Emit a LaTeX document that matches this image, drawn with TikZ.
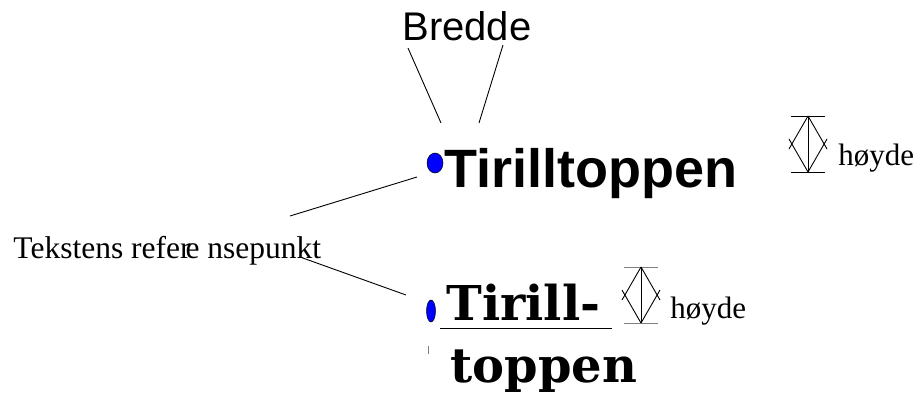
\documentclass[tikz,border=0pt]{standalone}
\usepackage{fontspec}
\setmainfont{Liberation Serif}
\newfontfamily\arialfont{Liberation Sans}
\newfontfamily\slabfont{DejaVu Serif}
\usetikzlibrary{positioning}
\usetikzlibrary{shapes.geometric}

\begin{document}
\begin{tikzpicture}[x=1pt,y=-1pt,line width=0.9pt,
    refdot/.style={draw, ellipse, fill=blue, inner sep=0pt, line width=0.5pt},
    txt/.style={anchor=base west, inner sep=0pt}]
    \useasboundingbox (0,0) rectangle (916,394);

            % Names
            \node [txt, font=\arialfont\fontsize{40}{42}\selectfont] (bredde) at (402,40) {Bredde};
            \node [txt, font=\arialfont\bfseries\fontsize{54}{58}\selectfont] (navn1) at (444,187) {Tirilltoppen};
            \node [txt, font=\slabfont\bfseries\fontsize{48}{50}\selectfont] (navn2) at (446,320) {Tirill-};
            \node [txt, font=\slabfont\bfseries\fontsize{48}{50}\selectfont] (navn3) at (450,382) {toppen};

            % Reference points
            \node [refdot, minimum width=16pt, minimum height=20pt] (dot1) at (435,163) {};
            \node [refdot, minimum width=9pt, minimum height=22pt] (dot2) at (431,311) {};
            \node [txt, font=\fontsize{31.5}{33}\selectfont] (refpkt) at (13,258) {Tekstens refer\kern-5pt e nsepunkt};

            % Height labels
            \node [txt, font=\fontsize{31}{32}\selectfont] (hoyde1) at (838,165) {høyde};
            \node [txt, font=\fontsize{31}{32}\selectfont] (hoyde2) at (670,318) {høyde};

            % Connections
            \coordinate (b1) at (408,48);
            \coordinate (b2) at (441,123);
            \coordinate (b3) at (503,45);
            \coordinate (b4) at (479,123);
            \draw (b1) -- (b2);
            \draw (b3) -- (b4);
            \coordinate (r1) at (290,216);
            \coordinate (r2) at (417,177);
            \coordinate (r3) at (300,257);
            \coordinate (r4) at (406,295);
            \draw (r1) -- (r2);
            \draw (r3) -- (r4);

            % Underline and marks
            \draw (440,328) -- (612,328);
            \draw [gray, line width=0.7pt] (428,346) -- (428,354);

            % Height marks
            \foreach \x/\y/\c in {808/116/black, 641/267/gray}
            {
                \draw [\c] (\x-17,\y) -- (\x+17,\y);
                \draw [\c] (\x-17,\y+56) -- (\x+17,\y+56);
                \draw (\x,\y) -- (\x,\y+56);
                \draw (\x,\y) -- (\x-19,\y+33);
                \draw (\x,\y+56) -- (\x-19,\y+23);
                \draw (\x,\y) -- (\x+19,\y+33);
                \draw (\x,\y+56) -- (\x+19,\y+23);
            }

\end{tikzpicture}
\end{document}
